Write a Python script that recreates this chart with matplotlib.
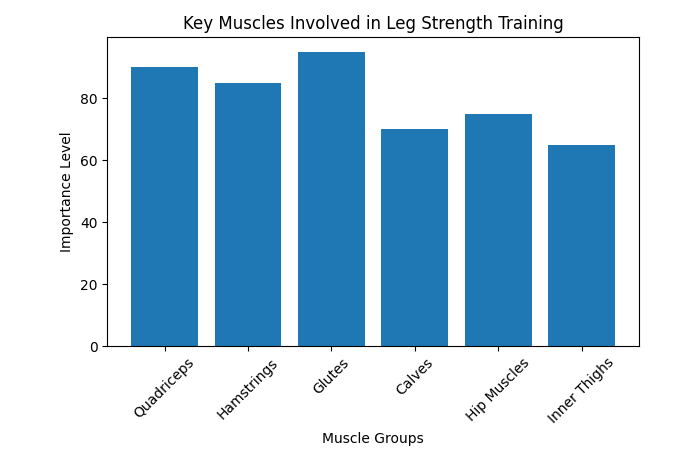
import matplotlib
matplotlib.use('Agg')
import matplotlib.pyplot as plt

# muscle groups and their importance
muscles = ['Quadriceps', 'Hamstrings', 'Glutes', 'Calves', 'Hip Muscles', 'Inner Thighs']
importance = [90, 85, 95, 70, 75, 65]

fig, ax = plt.subplots(figsize=(7, 4.5), dpi=100)
ax.bar(muscles, importance, color='#1f77b4')
ax.set_title('Key Muscles Involved in Leg Strength Training')
ax.set_xlabel('Muscle Groups')
ax.set_ylabel('Importance Level')
plt.xticks(rotation=45)
plt.subplots_adjust(left=0.153, right=0.913, top=0.918, bottom=0.231)
plt.savefig('out.png')
